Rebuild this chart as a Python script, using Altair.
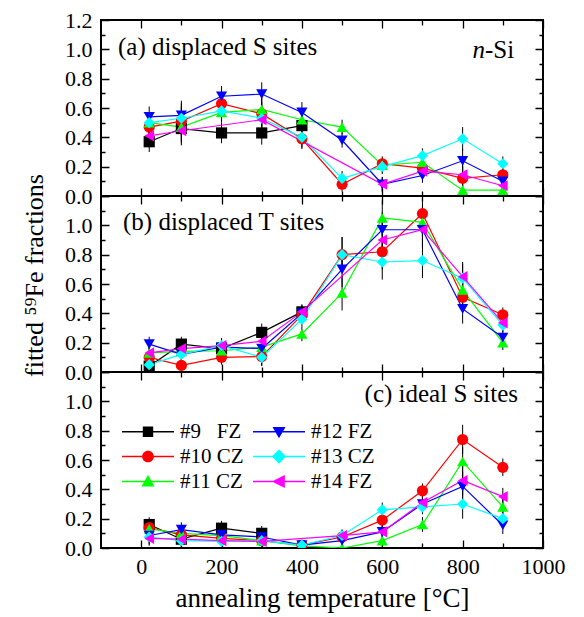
import altair as alt
import pandas as pd

FONT = "Liberation Serif"
W, H = 442, 176

T = [20, 100, 200, 300, 400, 500, 600, 700, 800, 900]
NB = "\u00a0"
SERIES = ["#9" + NB * 3 + "FZ", "#10 CZ", "#11 CZ", "#12 FZ", "#13 CZ", "#14 FZ"]
COLORS = ["#000000", "#ff0000", "#00ff00", "#0000ff", "#00ffff", "#ff00ff"]
SHAPES = ["square", "circle", "triangle-up", "triangle-down", "diamond", "triangle-left"]
XTICKS = [0, 100, 200, 300, 400, 500, 600, 700, 800, 900, 1000]
YTICKS = [0.0, 0.1, 0.2, 0.3, 0.4, 0.5, 0.6, 0.7, 0.8, 0.9, 1.0, 1.1, 1.2]
N = None

# (a) displaced S sites
a9 = [0.37, 0.46, 0.43, 0.43, 0.48, N, N, N, N, N]
a10 = [0.47, 0.51, 0.63, 0.56, 0.39, 0.08, 0.22, 0.19, 0.12, 0.145]
a11 = [0.50, 0.47, 0.57, 0.59, 0.52, 0.47, 0.21, 0.23, 0.04, 0.04]
a12 = [0.54, 0.55, 0.68, 0.695, 0.57, 0.38, 0.08, 0.14, 0.24, 0.10]
a13 = [0.50, 0.53, 0.58, 0.53, 0.40, 0.12, 0.20, 0.275, 0.39, 0.22]
a14 = [0.41, 0.445, N, 0.52, N, N, 0.08, 0.17, 0.145, 0.07]
ea = [0.07, 0.10, 0.07, 0.08, 0.07, 0.05, 0.05, 0.05, 0.08, 0.05]

# (b) displaced T sites
b9 = [0.04, 0.19, 0.16, 0.27, 0.41, N, N, N, N, N]
b10 = [0.10, 0.045, 0.10, 0.105, 0.39, 0.80, 0.82, 1.08, 0.51, 0.39]
b11 = [0.13, 0.14, 0.145, 0.17, 0.26, 0.54, 1.05, 1.02, 0.56, 0.20]
b12 = [0.19, 0.12, 0.17, 0.16, 0.40, 0.70, 0.97, 0.97, 0.43, 0.235]
b13 = [0.05, 0.12, 0.18, 0.10, 0.36, 0.80, 0.75, 0.76, 0.64, 0.32]
b14 = [0.13, 0.16, 0.18, 0.21, 0.41, N, 0.90, 0.97, 0.65, 0.335]
eb = [0.05, 0.05, 0.05, 0.06, 0.05, 0.12, 0.12, 0.12, 0.10, 0.05]

# (c) ideal S sites
c9 = [0.16, 0.06, 0.135, 0.10, N, N, N, N, N, N]
c10 = [0.14, 0.09, 0.065, 0.05, 0.02, 0.075, 0.19, 0.39, 0.74, 0.55]
c11 = [0.13, 0.10, 0.085, 0.05, 0.015, 0.0, 0.05, 0.16, 0.59, 0.28]
c12 = [0.085, 0.125, 0.09, 0.075, 0.02, 0.05, 0.11, 0.30, 0.42, 0.155]
c13 = [0.075, 0.05, 0.045, 0.05, 0.02, 0.085, 0.26, 0.28, 0.30, 0.20]
c14 = [0.065, 0.06, 0.05, 0.045, N, 0.085, 0.11, 0.31, 0.46, 0.35]
ec = [0.05, 0.05, 0.05, 0.05, 0.03, 0.04, 0.05, 0.05, 0.10, 0.06]

PANELS = {
    "a": ([a9, a10, a11, a12, a13, a14], ea),
    "b": ([b9, b10, b11, b12, b13, b14], eb),
    "c": ([c9, c10, c11, c12, c13, c14], ec),
}

rows = []
for pid, (vals_list, errs) in PANELS.items():
    for si, vals in enumerate(vals_list):
        for t, v, e in zip(T, vals, errs):
            if v is None:
                continue
            rows.append(dict(panel=pid, series=SERIES[si], T=t, v=v, lo=v - e, hi=v + e))
df = pd.DataFrame(rows)

# legend symbols: a thin bar (the line) with the marker in its middle
LEG_LINE = "M-1,-0.1H7V0.1H-1Z"
LEG_MARK = {
    "square": "M2.2,-0.8H3.8V0.8H2.2Z",
    "circle": "M2.1,0A0.9,0.9 0 1,1 3.9,0A0.9,0.9 0 1,1 2.1,0Z",
    "triangle-up": "M3,-1L4,0.75L2,0.75Z",
    "triangle-down": "M3,1L2,-0.75L4,-0.75Z",
    "diamond": "M3,-1.1L4.1,0L3,1.1L1.9,0Z",
    "triangle-left": "M1.9,0L3.9,-1L3.9,1Z",
}
leg_shp_rng = [LEG_LINE + LEG_MARK[s] for s in SHAPES]

xs = alt.Scale(domain=[-100, 1000], nice=False, zero=False)
ys = alt.Scale(domain=[0, 1.2], nice=False)
cs = alt.Scale(domain=SERIES, range=COLORS)
ss = alt.Scale(domain=SERIES, range=SHAPES)
leg_ss = alt.Scale(domain=SERIES, range=leg_shp_rng)

YTITLE = "fitted \u2075\u2079Fe fractions"


def xaxis(show):
    kw = dict(values=XTICKS, grid=True, gridColor="black", gridWidth=1.3, gridOpacity=1,
              gridDash={"condition": {"test": "datum.value % 200 === 0", "value": [8, H - 16, 8]},
                        "value": [5, H - 10, 5]},
              ticks=False, domain=False, labelFlush=False, labelOverlap=False)
    if show:
        kw.update(labels=True, labelExpr="datum.value % 200 === 0 ? format(datum.value, 'd') : ''",
                  labelFont=FONT, labelFontSize=22, labelColor="black", labelPadding=8,
                  title="annealing temperature [\u00b0C]", titleFont=FONT, titleFontSize=27,
                  titleFontWeight="normal", titleColor="black", titlePadding=8)
    else:
        kw.update(labels=False, title=None)
    return alt.Axis(**kw)


def yaxis(top, show_title):
    cond = "round(datum.value*10) % 2 === 0" + ("" if top else " && datum.value < 1.15")
    kw = dict(values=YTICKS, grid=True, gridColor="black", gridWidth=1.3, gridOpacity=1,
              gridDash={"condition": {"test": "round(datum.value*10) % 2 === 0",
                                      "value": [8, W - 16, 8]},
                        "value": [4, W - 8, 4]},
              ticks=False, domain=False, labelFlush=False, labelOverlap=False,
              labelExpr=f"{cond} ? format(datum.value, '.1f') : ''",
              labelFont=FONT, labelFontSize=22, labelColor="black", labelPadding=9)
    if show_title:
        kw.update(title=YTITLE, titleFont=FONT, titleFontSize=26, titleFontWeight="normal",
                  titleColor="black", titlePadding=17, titleY=79)
    else:
        kw.update(title=None)
    return alt.Axis(**kw)


def text(s, x, y, align, style="normal"):
    return alt.Chart(pd.DataFrame({"s": [s]})).mark_text(
        align=align, baseline="alphabetic", font=FONT, fontSize=25, fontStyle=style, color="black"
    ).encode(text="s:N", x=alt.value(x), y=alt.value(y))


leg = alt.Legend(
    title=None, orient="none", legendX=17, legendY=49, columns=2, columnPadding=5, rowPadding=3,
    padding=0, labelFont=FONT, labelFontSize=21, labelColor="black", labelOffset=41,
    symbolSize=169, symbolStrokeWidth=0, labelLimit=300, symbolOpacity=1,
)


def panel(pid, top, show_x, show_title, texts, with_legend):
    d = df[df.panel == pid]
    xa = xaxis(show_x)
    ya = yaxis(top, show_title)
    X = alt.X("T:Q", scale=xs, axis=xa)
    rules = alt.Chart(d).mark_rule(color="black", strokeWidth=1, clip=True).encode(
        x=X, y=alt.Y("lo:Q", scale=ys, axis=ya), y2="hi:Q")
    lines = alt.Chart(d).mark_line(strokeWidth=1.2, clip=True).encode(
        x=X, y=alt.Y("v:Q", scale=ys, axis=ya),
        color=alt.Color("series:N", scale=cs, legend=None))
    pts = alt.Chart(d).mark_point(filled=True, size=125, opacity=1, clip=True).encode(
        x=X, y=alt.Y("v:Q", scale=ys, axis=ya),
        color=alt.Color("series:N", scale=cs, legend=None),
        shape=alt.Shape("series:N", scale=ss, legend=None))
    layers = [rules, lines, pts]
    if with_legend:
        dummy = alt.Chart(pd.DataFrame({"series": pd.Series([], dtype=str)})).mark_point(
            filled=True, opacity=1).encode(
            fill=alt.Fill("series:N", scale=cs, legend=leg),
            shape=alt.Shape("series:N", scale=leg_ss, legend=leg))
        layers.append(dummy)
    ch = alt.layer(*layers, *texts).properties(width=W, height=H)
    if with_legend:
        ch = ch.resolve_scale(shape="independent", fill="independent")
    return ch


pa = panel("a", True, False, False,
           [text("(a) displaced S sites", 17, 35, "left"),
            text("n", 384, 38, "right", "italic"),
            text("-Si", 384, 38, "left")], False)
pb = panel("b", False, False, True, [text("(b) displaced T sites", 22, 34, "left")], False)
pc = panel("c", False, True, False, [text("(c) ideal S sites", 417, 30, "right")], True)

chart = alt.vconcat(pa, pb, pc, spacing=0, bounds="flush").resolve_scale(
    color="independent", fill="independent", shape="independent"
).properties(
    padding={"left": 12, "top": 0, "right": 5, "bottom": 2}, background="white"
).configure_view(stroke="black", strokeWidth=2)

chart.save("out.html", embed_options={"renderer": "svg", "actions": False})
